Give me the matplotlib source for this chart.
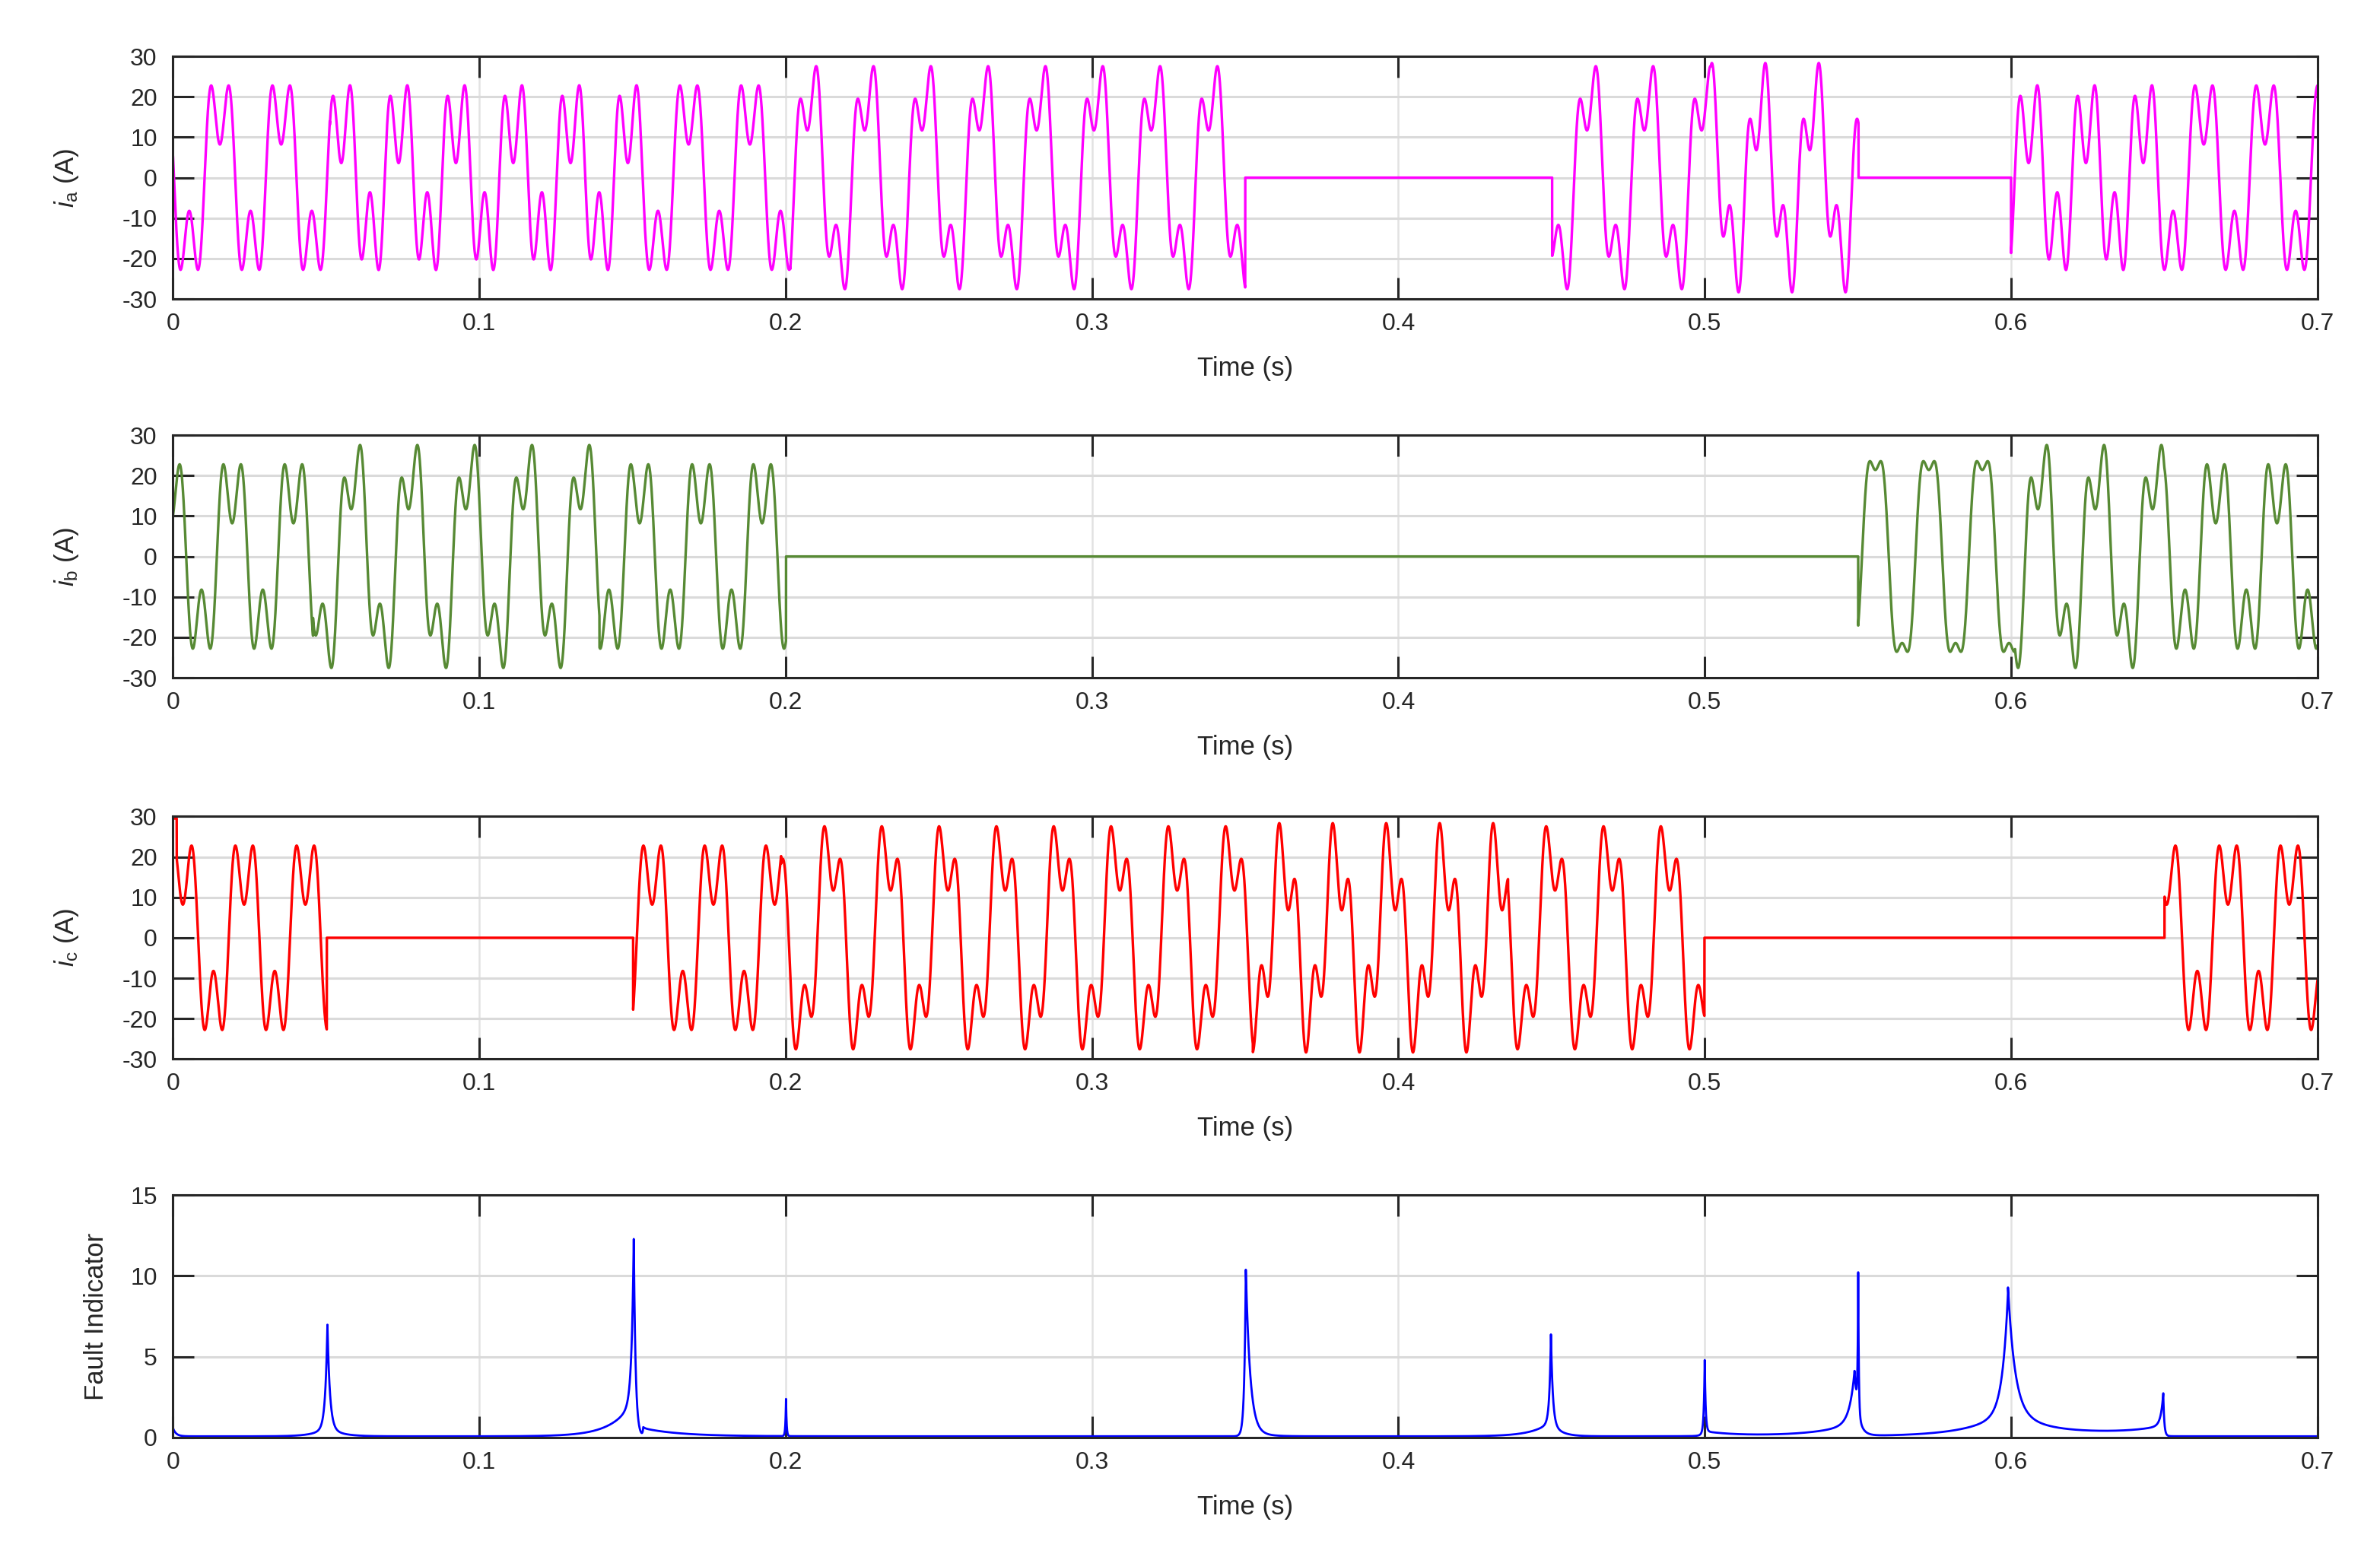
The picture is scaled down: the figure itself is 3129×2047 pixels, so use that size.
import numpy as np
import matplotlib
matplotlib.use('Agg')
import matplotlib.pyplot as plt

plt.rcParams['font.family'] = ['Liberation Sans', 'DejaVu Sans']
plt.rcParams['mathtext.fontset'] = 'custom'
plt.rcParams['mathtext.rm'] = 'Liberation Sans'
plt.rcParams['mathtext.it'] = 'Liberation Sans:italic'
plt.rcParams['axes.unicode_minus'] = False

# waveform shapes: fundamental amp, 3rd harmonic amp, 3rd harmonic phase
shapes = {
    'A': (19.8, 11.6, 0.0),
    'B': (16.3, 12.6, 0.3),
    'C': (23.0, 10.5, 0.7),
    'Cm': (23.0, 10.5, -0.7),
    'D': (20.3, 11.0, 1.35),
    'Dm': (20.3, 11.0, -1.35),
    'E': (27.0, 5.6, 0.0),
}

# segments: start, end, shape, frequency (Hz), time of a positive half-cycle centre
seg_a = [
    (0.0000, 0.0503, 'A', 50.0, 0.0153),
    (0.0503, 0.1531, 'B', 53.45, 0.0550),
    (0.1531, 0.2000, 'A', 50.0, 0.1683),
    (0.2000, 0.3500, 'C', 53.45, 0.2074),
    (0.4502, 0.5005, 'C', 53.45, 0.4619),
    (0.5005, 0.5502, 'D', 57.3, 0.5173),
    (0.6000, 0.6480, 'B', 53.45, 0.6058),
    (0.6480, 0.7001, 'A', 50.0, 0.6629),
]
seg_b = [
    (0.0000, 0.0442, 'A', 50.0, 0.0193),
    (0.0442, 0.1377, 'C', 53.45, 0.0585),
    (0.1377, 0.2001, 'A', 50.0, 0.1723),
    (0.5501, 0.5998, 'E', 57.3, 0.5557),
    (0.5998, 0.6515, 'C', 53.45, 0.6091),
    (0.6515, 0.7001, 'A', 50.0, 0.6668),
]
seg_c = [
    (0.0000, 0.0502, 'A', 50.0, 0.0232),
    (0.1502, 0.2000, 'A', 50.0, 0.1564),
    (0.2000, 0.3510, 'Cm', 53.45, 0.2152),
    (0.3510, 0.4373, 'Dm', 57.3, 0.3636),
    (0.4373, 0.4999, 'Cm', 53.45, 0.4508),
    (0.6501, 0.7001, 'A', 50.0, 0.6708),
]
# start-up overshoot of i_c: time span and value
ic_start = (0.0, 0.0012, 29.5)

# fault indicator peaks: time, height, rise time const, decay time const
fi_peaks = [
    (0.0000, 0.5, 0.0001, 0.0010),
    (0.0504, 6.3, 0.0007, 0.0008),
    (0.0504, 0.6, 0.0040, 0.0040),
    (0.1504, 10.0, 0.0007, 0.0006),
    (0.1504, 2.2, 0.0070, 0.0006),
    (0.1535, 0.5, 0.0002, 0.0120),
    (0.2001, 2.3, 0.0002, 0.0002),
    (0.3502, 9.8, 0.0005, 0.0014),
    (0.3502, 0.5, 0.0005, 0.0040),
    (0.4498, 5.4, 0.0005, 0.0006),
    (0.4498, 0.9, 0.0060, 0.0030),
    (0.5000, 4.4, 0.0003, 0.0003),
    (0.5000, 0.3, 0.0010, 0.0100),
    (0.5489, 3.2, 0.0016, 0.0011),
    (0.5489, 0.8, 0.0120, 0.0020),
    (0.5501, 8.6, 0.0002, 0.0002),
    (0.5990, 7.3, 0.0018, 0.0022),
    (0.5990, 1.6, 0.0120, 0.0090),
    (0.6497, 2.0, 0.0008, 0.0003),
    (0.6497, 0.5, 0.0100, 0.0005),
]
fi_tails = [(0.5990, 0.6497, 0.3, 0.1)]
fi_base = 0.08

t = np.arange(0, 0.70001, 1e-5)


def centre(a1, a3, ph):
    x = np.linspace(0, np.pi, 4001)
    y = a1 * np.sin(x) + a3 * np.sin(3 * x + ph)
    k = np.where((y[1:-1] > y[:-2]) & (y[1:-1] >= y[2:]))[0] + 1
    return x[k].mean()


def wave(seg, tt):
    _, _, name, f, tc = seg
    a1, a3, ph = shapes[name]
    x = centre(a1, a3, ph) + 2 * np.pi * f * (tt - tc)
    return a1 * np.sin(x) + a3 * np.sin(3 * x + ph)


def current(segments):
    segs = [list(s) for s in segments]
    # move each hand-over between touching segments to where the two traces meet
    for s0, s1 in zip(segs[:-1], segs[1:]):
        if abs(s0[1] - s1[0]) < 1e-4:
            tt = np.linspace(s0[1] - 0.0015, s0[1] + 0.0015, 301)
            tb = tt[np.argmin(np.abs(wave(s0, tt) - wave(s1, tt)))]
            s0[1] = s1[0] = tb
    y = np.zeros_like(t)
    for s in segs:
        m = (t >= s[0]) & (t < s[1])
        y[m] = wave(s, t[m])
    return y


ic = current(seg_c)
ic[(t >= ic_start[0]) & (t < ic_start[1])] = ic_start[2]

fi = np.full_like(t, fi_base)
for tp, h, tr, td in fi_peaks:
    dt = t - tp
    fi += h * np.exp(-np.abs(dt) / np.where(dt < 0, tr, td))
for t0, t1, h, tau in fi_tails:
    m = (t >= t0) & (t < t1)
    fi[m] += h * np.exp(-(t[m] - t0) / tau)

fig = plt.figure(figsize=(3129 / 200, 2047 / 200), dpi=200)
dark = '#262626'
left, width, height = 0.0727, 0.9010, 0.1558
panels = [
    (0.8080, current(seg_a), '#ff00ff', 1.2, r'$\mathit{i}_{\mathrm{a}}$ (A)', (-30, 30), np.arange(-30, 31, 10), -0.043),
    (0.5647, current(seg_b), '#578a34', 1.2, r'$\mathit{i}_{\mathrm{b}}$ (A)', (-30, 30), np.arange(-30, 31, 10), -0.043),
    (0.3198, ic, '#ff0000', 1.2, r'$\mathit{i}_{\mathrm{c}}$ (A)', (-30, 30), np.arange(-30, 31, 10), -0.043),
    (0.0767, fi, '#0000ff', 1.0, 'Fault Indicator', (0, 15), np.arange(0, 16, 5), -0.030),
]

for bottom, y, col, lw, ylab, ylim, yt, ylx in panels:
    ax = fig.add_axes([left, bottom, width, height])
    ax.plot(t, y, color=col, lw=lw)
    ax.set_xlim(0, 0.7)
    ax.set_ylim(*ylim)
    ax.set_xticks(np.arange(0, 0.71, 0.1))
    ax.set_xticklabels(['0', '0.1', '0.2', '0.3', '0.4', '0.5', '0.6', '0.7'])
    ax.set_yticks(yt)
    ax.set_axisbelow(True)
    ax.grid(axis='y', color='#dadada', lw=1.1)
    ax.grid(axis='x', color='#e2e2e2', lw=0.9)
    for s in ax.spines.values():
        s.set_color(dark)
        s.set_linewidth(1.1)
    ax.tick_params(direction='in', length=10, width=1.1, color=dark,
                   labelcolor=dark, labelsize=11.5, top=True, right=True)
    ax.tick_params(axis='y', pad=7.5)
    ax.tick_params(axis='x', pad=6.5)
    ax.set_xlabel('Time (s)', fontsize=12.5, color=dark)
    ax.xaxis.set_label_coords(0.5, -0.235)
    ax.xaxis.label.set_va('top')
    ax.set_ylabel(ylab, fontsize=12.5, color=dark)
    ax.yaxis.set_label_coords(ylx, 0.5)

fig.savefig('out.png', dpi=200)
